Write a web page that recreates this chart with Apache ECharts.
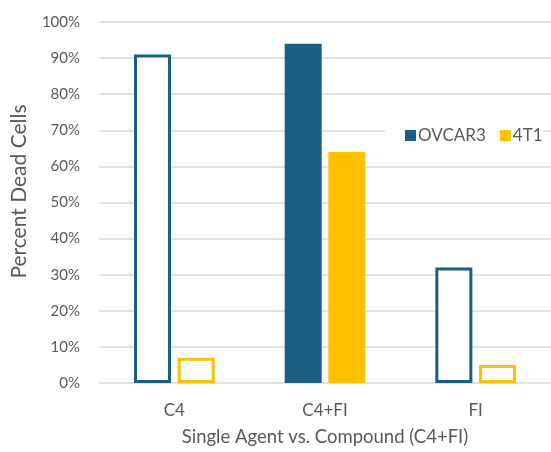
<!DOCTYPE html>
<html>
<head>
<meta charset="utf-8">
<script src="https://cdn.jsdelivr.net/npm/echarts@6/dist/echarts.min.js"></script>
<style>html,body{margin:0;padding:0;background:#fff;overflow:hidden;}#c{width:551px;height:452px;}</style>
</head>
<body>
<div id="c"></div>
<script>
const categories = ['C4', 'C4+FI', 'FI'];
const ovcar3 = [91, 94, 32];
const t4t1 = [7, 64, 5];
const seriesNames = ['OVCAR3', '4T1'];
const yTicks = [0, 10, 20, 30, 40, 50, 60, 70, 80, 90, 100];
const filledCategory = 'C4+FI';

const colors = ['#185F81', '#FFC000'];
const font = 'Lato, "Open Sans", sans-serif';

function styled(values, color) {
  return values.map((v, i) => {
    if (categories[i] === filledCategory) {
      return { value: v, itemStyle: { color: color, borderWidth: 0 } };
    }
    return { value: v, itemStyle: { color: '#ffffff', borderColor: color, borderWidth: 3 } };
  });
}

const chart = echarts.init(document.getElementById('c'));
chart.setOption({
  animation: false,
  backgroundColor: '#ffffff',
  grid: { left: 99, top: 22, width: 459, height: 365, containLabel: false },
  legend: {
    data: seriesNames,
    orient: 'horizontal',
    left: 385,
    top: 124,
    padding: [3, 0, 3, 20],
    backgroundColor: '#ffffff',
    itemWidth: 11,
    itemHeight: 11,
    itemGap: 14,
    icon: 'rect',
    textStyle: { fontSize: 17, color: '#595959', fontFamily: font, padding: [0, 0, 0, -3] }
  },
  xAxis: {
    type: 'category',
    data: categories,
    axisLine: { show: false },
    axisTick: { show: false },
    axisLabel: { fontSize: 17, color: '#595959', fontFamily: font, margin: 19 },
    name: 'Single Agent vs. Compound (C4+FI)',
    nameLocation: 'middle',
    nameGap: 45,
    nameTextStyle: { fontSize: 18.5, color: '#595959', fontFamily: font }
  },
  yAxis: {
    type: 'value',
    min: yTicks[0],
    max: yTicks[yTicks.length - 1],
    interval: yTicks[1] - yTicks[0],
    axisLine: { show: false },
    axisTick: { show: false },
    splitLine: { lineStyle: { color: '#d9d9d9', width: 1.5 } },
    axisLabel: { formatter: '{value}%', fontSize: 15, color: '#595959', fontFamily: font, margin: 19 },
    name: 'Percent Dead Cells',
    nameLocation: 'middle',
    nameGap: 69,
    nameTextStyle: { fontSize: 21, color: '#595959', fontFamily: font, padding: [0, 0, 0, 22] }
  },
  series: [
    {
      name: seriesNames[0],
      type: 'bar',
      barWidth: 37,
      barGap: '18%',
      itemStyle: { color: colors[0] },
      data: styled(ovcar3, colors[0])
    },
    {
      name: seriesNames[1],
      type: 'bar',
      barWidth: 37,
      barGap: '18%',
      itemStyle: { color: colors[1] },
      data: styled(t4t1, colors[1])
    }
  ]
});
</script>
</body>
</html>
